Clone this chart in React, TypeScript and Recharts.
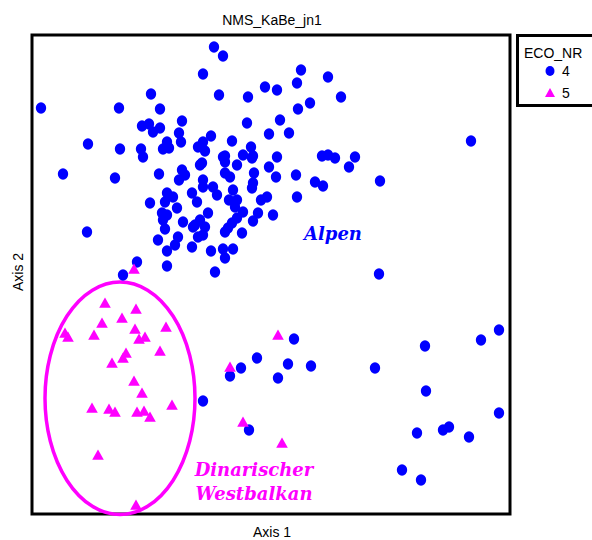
import React from "react";
import { ScatterChart, Scatter, XAxis, YAxis, ReferenceArea } from "recharts";

// Axis 1 / Axis 2 scores (arbitrary NMS units, 0..478)
const alpenX = [9,87,119,128,171,182,191,187,216,233,245,265,269,296,309,266,278,248,215,237,257,200,179,171,166,173,219,211,221,193,245,290,296,303,323,150,110,117,128,121,147,149,56,88,109,111,135,131,137,439,31,83,127,150,153,147,168,135,141,160,165,118,133,145,130,135,131,151,133,161,55,166,146,143,126,160,135,105,135,91,191,193,220,170,205,237,317,193,198,222,244,264,171,283,291,221,220,171,181,185,201,265,197,205,235,229,203,211,176,226,241,205,221,168,163,173,200,196,193,171,210,179,191,201,193,183,348,347,262,225,209,198,256,246,279,171,467,449,393,343,394,467,217,385,411,417,437,370,389];
const alpenY = [406,406,420,405,440,467,458,419,417,427,424,431,444,437,417,405,411,394,391,380,381,373,378,372,367,363,367,359,358,358,357,358,359,356,357,393,388,390,386,382,381,372,370,365,365,357,372,365,366,373,340,336,340,344,339,334,349,321,317,321,312,311,312,306,301,299,294,292,285,287,282,277,277,269,274,267,263,252,248,239,357,352,356,351,349,347,347,341,337,341,337,339,334,332,328,331,326,327,327,319,324,317,314,314,317,314,307,302,301,301,299,296,293,294,289,287,291,286,282,279,281,263,265,265,256,242,333,240,175,156,146,138,150,136,148,113,184,174,168,146,123,101,84,81,84,87,77,44,34];

const dinarX = [102,73,104,90,70,33,36,62,103,113,107,134,128,94,91,80,102,110,60,77,83,105,112,118,140,66,104,198,211,250,246];
const dinarY = [245,211,205,196,191,181,177,179,185,177,175,187,163,161,156,151,133,121,106,105,102,102,103,97,109,59,9,147,92,71,179];

// Ellipse enclosing the Dinaric group (axis units)
const ellipseX = [13, 163];
const ellipseY = [-0.5, 232];

const legendTitle = "ECO_NR";
const legendItems = ["4", "5"];

const BLUE = "#0000FF";
const MAGENTA = "#FF00FF";

const alpenData = alpenX.map((x, i) => ({ x, y: alpenY[i] }));
const dinarData = dinarX.map((x, i) => ({ x, y: dinarY[i] }));

const Dot = (p: any) => <ellipse cx={p.cx} cy={p.cy} rx={5.2} ry={5.7} fill={BLUE} />;
const Tri = (p: any) => (
  <polygon
    points={`${p.cx},${p.cy - 5.5} ${p.cx + 5.8},${p.cy + 4.8} ${p.cx - 5.8},${p.cy + 4.8}`}
    fill={MAGENTA}
  />
);

const EllipseShape = (p: any) => (
  <ellipse
    cx={p.x + p.width / 2}
    cy={p.y + p.height / 2}
    rx={Math.abs(p.width) / 2}
    ry={Math.abs(p.height) / 2}
    fill="none"
    stroke={MAGENTA}
    strokeWidth={3.5}
  />
);

const BoxShape = (p: any) => (
  <rect x={p.x} y={p.y} width={p.width} height={p.height} fill="none" stroke="#000" strokeWidth={3} />
);

export default function App() {
  return (
    <div style={{ position: "absolute", left: 0, top: 0, width: 592, height: 540, background: "#fff" }}>
      <ScatterChart width={592} height={540} margin={{ left: 32, right: 82, top: 35, bottom: 26 }}>
        <XAxis type="number" dataKey="x" domain={[0, 478]} hide />
        <YAxis type="number" dataKey="y" domain={[0, 479]} hide />
        <ReferenceArea x1={0} x2={478} y1={0} y2={479} ifOverflow="visible" shape={BoxShape} />
        <Scatter data={alpenData} shape={Dot} isAnimationActive={false} />
        <Scatter data={dinarData} shape={Tri} isAnimationActive={false} />
        <ReferenceArea
          x1={ellipseX[0]}
          x2={ellipseX[1]}
          y1={ellipseY[0]}
          y2={ellipseY[1]}
          ifOverflow="visible"
          shape={EllipseShape}
        />
      </ScatterChart>
      <svg width={592} height={540} style={{ position: "absolute", left: 0, top: 0, pointerEvents: "none" }}>
        <text x={272} y={25} textAnchor="middle" fontFamily="Liberation Sans, Arial" fontSize={14} fill="#000">
          NMS_KaBe_jn1
        </text>
        <text x={272} y={537} textAnchor="middle" fontFamily="Liberation Sans, Arial" fontSize={14} fill="#000">
          Axis 1
        </text>
        <text
          x={0}
          y={0}
          transform="translate(23,272) rotate(-90)"
          textAnchor="middle"
          fontFamily="Liberation Sans, Arial"
          fontSize={14}
          fill="#000"
        >
          Axis 2
        </text>
        <text x={333} y={240} textAnchor="middle" fontFamily="DejaVu Serif" fontStyle="italic" fontWeight="bold" fontSize={18} fill={BLUE}>
          Alpen
        </text>
        <text x={254} y={476} textAnchor="middle" fontFamily="DejaVu Serif" fontStyle="italic" fontWeight="bold" fontSize={18} fill={MAGENTA}>
          Dinarischer
        </text>
        <text x={254} y={500} textAnchor="middle" fontFamily="DejaVu Serif" fontStyle="italic" fontWeight="bold" fontSize={18} fill={MAGENTA}>
          Westbalkan
        </text>
        <rect x={517.5} y={35.5} width={80} height={70} fill="#fff" stroke="#000" strokeWidth={3} />
        <text x={524} y={58} fontFamily="Liberation Sans, Arial" fontSize={14} fill="#000">
          {legendTitle}
        </text>
        <ellipse cx={550} cy={71} rx={4.5} ry={5} fill={BLUE} />
        <text x={562} y={76} fontFamily="Liberation Sans, Arial" fontSize={14} fill="#000">
          {legendItems[0]}
        </text>
        <polygon points="550,88 555,97 545,97" fill={MAGENTA} />
        <text x={562} y={98} fontFamily="Liberation Sans, Arial" fontSize={14} fill="#000">
          {legendItems[1]}
        </text>
      </svg>
    </div>
  );
}
